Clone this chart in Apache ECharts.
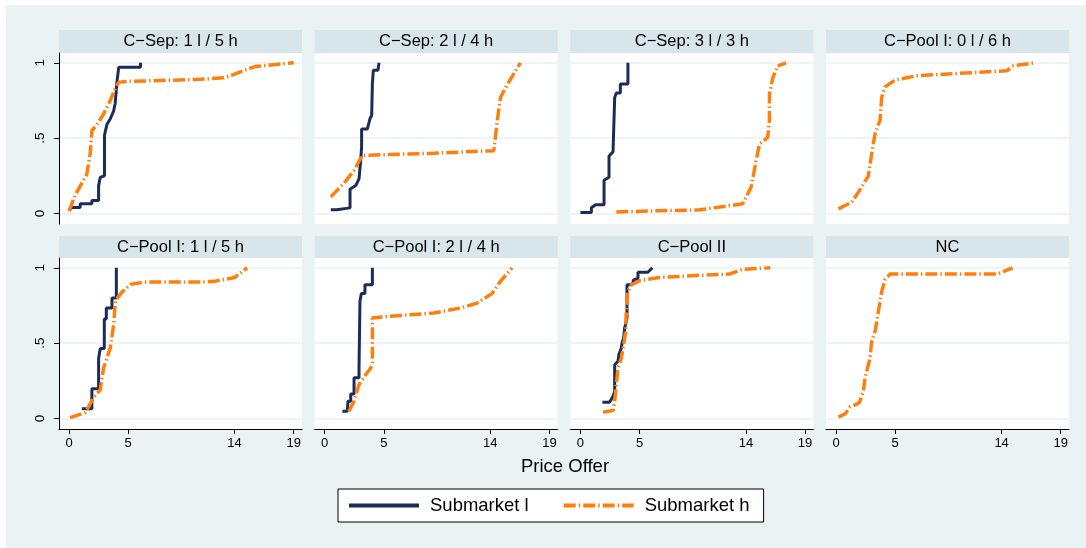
<!DOCTYPE html>
<html lang="en" style="height: 100%">
<head>
    <meta charset="UTF-8">
    <title>Price Offer by submarket</title>
    <script src="https://cdn.jsdelivr.net/npm/echarts@6/dist/echarts.min.js"></script>
</head>
<body style="height: 100%; margin: 0; background: #fff">
<div id="main" style="width: 1086px; height: 548px"></div>
<script>
    // panel titles, row by row
    var panelTitles = ['C\u2212Sep: 1 l / 5 h', 'C\u2212Sep: 2 l / 4 h', 'C\u2212Sep: 3 l / 3 h', 'C\u2212Pool I: 0 l / 6 h',
        'C\u2212Pool I: 1 l / 5 h', 'C\u2212Pool I: 2 l / 4 h', 'C\u2212Pool II', 'NC'];
    var xTicks = [0, 5, 14, 19];
    var yTicks = [0, 0.5, 1];
    var yTickLabels = ['0', '.5', '1'];
    var seriesNames = ['Submarket l', 'Submarket h'];

    // [price offer, cumulative share]
    var sep1L = [[0, 0.02], [0.23, 0.04], [0.94, 0.04], [0.94, 0.064], [1.93, 0.064], [1.93, 0.086], [2.5, 0.086], [2.5, 0.185],
        [2.64, 0.24], [3.0, 0.25], [3.0, 0.52], [3.2, 0.59], [3.5, 0.63], [3.77, 0.68], [3.9, 0.73], [4.06, 0.88], [4.2, 0.97],
        [6.04, 0.97], [6.04, 1.0]];
    var sep1H = [[0, 0.015], [0.51, 0.12], [1.5, 0.26], [1.79, 0.40], [1.93, 0.55], [2.36, 0.59], [2.92, 0.66], [3.49, 0.75],
        [3.91, 0.83], [4.2, 0.87], [4.77, 0.876], [11.1, 0.89], [13.1, 0.90], [14.0, 0.925], [15.7, 0.975], [19.0, 1.0]];
    var sep2L = [[0.51, 0.024], [1.01, 0.024], [1.01, 0.037], [2.14, 0.037], [2.14, 0.16], [2.62, 0.185], [2.9, 0.23],
        [3.04, 0.35], [3.12, 0.44], [3.12, 0.56], [3.6, 0.56], [3.83, 0.63], [3.97, 0.65], [4.03, 0.86], [4.11, 0.95],
        [4.5, 0.95], [4.59, 1.0]];
    var sep2H = [[0.51, 0.11], [1.63, 0.20], [2.48, 0.285], [3.18, 0.385], [5.0, 0.39], [9.23, 0.40], [14.3, 0.417],
        [14.6, 0.62], [14.86, 0.77], [15.4, 0.85], [16.55, 1.0]];
    var sep3L = [[0, 0.007], [0.93, 0.007], [0.93, 0.038], [1.29, 0.058], [2.0, 0.058], [2.0, 0.22], [2.42, 0.24], [2.42, 0.38],
        [2.76, 0.41], [2.9, 0.42], [2.9, 0.77], [3.04, 0.80], [3.38, 0.80], [3.38, 0.86], [4.02, 0.86], [4.02, 1.0]];
    var sep3H = [[3.04, 0.01], [6.7, 0.018], [10.08, 0.024], [13.73, 0.064], [14.44, 0.175], [14.86, 0.35], [15.14, 0.46],
        [15.84, 0.505], [15.99, 0.62], [15.99, 0.79], [16.27, 0.90], [16.69, 0.98], [17.4, 1.0]];
    var pool0H = [[0.2, 0.03], [1.33, 0.075], [2.17, 0.175], [2.73, 0.25], [3.01, 0.395], [3.3, 0.53], [3.72, 0.62], [3.86, 0.77],
        [4.14, 0.84], [4.99, 0.885], [6.82, 0.914], [10.48, 0.93], [14.43, 0.947], [14.99, 0.98], [16.82, 1.0]];
    var pool1L = [[1.08, 0.064], [1.93, 0.064], [1.93, 0.197], [2.5, 0.197], [2.5, 0.40], [2.64, 0.40], [2.64, 0.464],
        [2.98, 0.464], [2.98, 0.66], [3.15, 0.66], [3.15, 0.733], [3.63, 0.733], [3.63, 0.80], [4.0, 0.80], [4.0, 1.0]];
    var pool1H = [[0.09, 0.005], [1.36, 0.038], [2.07, 0.137], [2.64, 0.19], [2.92, 0.335], [3.49, 0.47], [3.77, 0.62],
        [3.91, 0.78], [4.49, 0.84], [5.19, 0.89], [6.32, 0.905], [11.15, 0.905], [12.28, 0.91], [13.98, 0.935], [15.06, 1.0]];
    var pool2L = [[1.49, 0.048], [1.91, 0.048], [1.97, 0.115], [2.2, 0.115], [2.2, 0.163], [2.48, 0.163], [2.48, 0.27],
        [2.9, 0.27], [2.9, 0.33], [2.98, 0.33], [2.98, 0.78], [3.1, 0.83], [3.4, 0.83], [3.4, 0.887], [4.03, 0.887], [4.03, 1.0]];
    var pool2H = [[2.05, 0.048], [2.48, 0.115], [2.9, 0.225], [3.46, 0.29], [3.89, 0.335], [4.03, 0.357], [4.03, 0.667],
        [4.45, 0.67], [6.42, 0.684], [9.23, 0.70], [11.49, 0.733], [12.9, 0.766], [14.16, 0.83], [14.86, 0.91], [15.85, 1.0]];
    var poolIIL = [[1.86, 0.108], [2.47, 0.108], [2.76, 0.148], [2.9, 0.18], [2.9, 0.357], [3.18, 0.38], [3.26, 0.424],
        [3.46, 0.468], [3.55, 0.51], [3.66, 0.534], [3.74, 0.60], [3.88, 0.644], [3.94, 0.667], [3.94, 0.887], [4.39, 0.887],
        [4.5, 0.92], [4.87, 0.93], [4.87, 0.97], [5.71, 0.97], [6.08, 1.0]];
    var poolIIH = [[1.91, 0.042], [2.76, 0.053], [2.9, 0.115], [3.04, 0.225], [3.18, 0.335], [3.46, 0.40], [3.66, 0.49],
        [3.83, 0.578], [3.88, 0.71], [4.02, 0.843], [4.3, 0.887], [5.0, 0.914], [6.7, 0.936], [10.08, 0.95], [12.61, 0.958],
        [13.73, 0.99], [16.05, 1.0]];
    var ncH = [[0.2, 0.009], [0.76, 0.03], [1.18, 0.075], [1.97, 0.104], [2.31, 0.18], [2.45, 0.27], [2.87, 0.40], [3.01, 0.51],
        [3.3, 0.578], [3.58, 0.71], [3.86, 0.843], [4.14, 0.92], [4.56, 0.958], [13.58, 0.958], [14.14, 0.975], [14.93, 1.0]];

    var lowData = [sep1L, sep2L, sep3L, null, pool1L, pool2L, poolIIL, null];
    var highData = [sep1H, sep2H, sep3H, pool0H, pool1H, pool2H, poolIIH, ncH];

    (function () {
        var navy = '#1d2b59';
        var orange = '#ff7f0e';
        var bg = '#eaf2f3';
        var stripColor = '#d8e5ea';
        var font = 'Liberation Sans, Arial, sans-serif';

        var gridW = 243, gridH = 171;
        var rowTop = [53, 258];
        function colLeft(c) { return 59 + c * 255.67; }

        var grids = [], xAxes = [], yAxes = [], series = [];
        var graphics = [{type: 'rect', shape: {x: 6, y: 5, width: 1080, height: 543}, style: {fill: bg}, z: -10}];

        for (var p = 0; p < 8; p++) {
            var row = Math.floor(p / 4), col = p % 4;
            var gLeft = colLeft(col), gTop = rowTop[row];
            grids.push({left: gLeft, top: gTop, width: gridW, height: gridH, show: true,
                backgroundColor: '#fff', borderWidth: 0});
            xAxes.push({
                type: 'value', gridIndex: p, min: -0.85, max: 19.7,
                axisLine: {show: row === 1, onZero: false, lineStyle: {color: '#000', width: 1}},
                axisTick: {show: row === 1, customValues: xTicks, length: 5, lineStyle: {color: '#000'}},
                axisLabel: {show: row === 1, customValues: xTicks, fontSize: 13, color: '#000', fontFamily: font, margin: 8},
                splitLine: {show: false}
            });
            yAxes.push({
                type: 'value', gridIndex: p, min: -0.07, max: 1.065,
                axisLine: {show: col === 0, onZero: false, lineStyle: {color: '#000', width: 1}},
                axisTick: {show: col === 0, customValues: yTicks, length: 5, lineStyle: {color: '#000'}},
                axisLabel: {show: col === 0, customValues: yTicks, rotate: 90, fontSize: 13.5, color: '#000',
                    fontFamily: font, margin: 12,
                    formatter: function (v) { return yTickLabels[yTicks.indexOf(v)]; }},
                splitLine: {show: true, lineStyle: {color: bg, width: 1.5}}
            });
            // header strip
            var stripTop = row === 0 ? 30 : 236;
            graphics.push({type: 'rect', shape: {x: gLeft, y: stripTop, width: gridW, height: gTop - stripTop},
                style: {fill: stripColor}, z: -5});
            graphics.push({type: 'text', x: gLeft + gridW / 2, y: (stripTop + gTop) / 2,
                style: {text: panelTitles[p], fill: '#000', font: '16.5px ' + font, textAlign: 'center', textVerticalAlign: 'middle'}});

            if (lowData[p]) {
                series.push({name: seriesNames[0], type: 'line', xAxisIndex: p, yAxisIndex: p, data: lowData[p],
                    symbol: 'none', lineStyle: {color: navy, width: 3}, itemStyle: {color: navy}});
            }
            series.push({name: seriesNames[1], type: 'line', xAxisIndex: p, yAxisIndex: p, data: highData[p],
                symbol: 'none', lineStyle: {color: orange, width: 3.5, type: [12, 3, 1.5, 3]}, itemStyle: {color: orange}});
        }

        graphics.push({type: 'text', x: 565, y: 467,
            style: {text: 'Price Offer', fill: '#000', font: '18.5px ' + font, textAlign: 'center', textVerticalAlign: 'middle'}});

        var option = {
            animation: false,
            backgroundColor: '#fff',
            graphic: graphics,
            grid: grids,
            xAxis: xAxes,
            yAxis: yAxes,
            legend: {
                data: seriesNames, left: 338, top: 489,
                backgroundColor: '#fff', borderColor: '#000', borderWidth: 1,
                padding: [7, 14, 7, 9], itemGap: 33, itemWidth: 70, itemHeight: 14,
                itemStyle: {opacity: 0},
                lineStyle: {width: 4},
                textStyle: {fontSize: 18.5, color: '#000', fontFamily: font, padding: [0, 0, 0, 6]}
            },
            series: series
        };

        var myChart = echarts.init(document.getElementById('main'));
        myChart.setOption(option);
    })();
</script>
</body>
</html>
